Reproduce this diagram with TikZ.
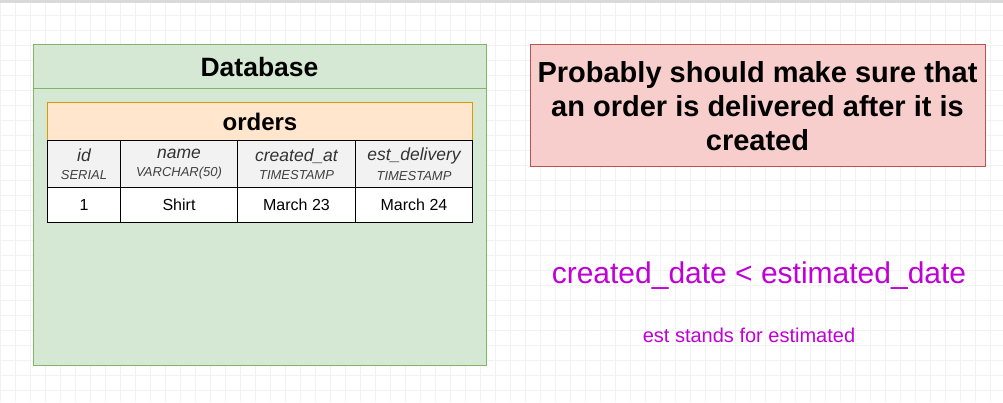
\documentclass[tikz,border=0pt]{standalone}
\usepackage{fontspec}
\setmainfont{Liberation Sans}
\definecolor{gfill}{HTML}{D5E8D4}
\definecolor{gline}{HTML}{82B366}
\definecolor{ofill}{HTML}{FFE6CC}
\definecolor{oline}{HTML}{D79B00}
\definecolor{rfill}{HTML}{F8CECC}
\definecolor{rline}{HTML}{B85450}
\definecolor{hfill}{HTML}{F2F2F2}
\definecolor{mag}{HTML}{C000D6}
\definecolor{gridc}{HTML}{F2F2F2}
\newcommand\mycolnm[1]{{\fontsize{17.5}{19}\selectfont\itshape\color{black!80} #1}}
\newcommand\mycoltp[1]{{\fontsize{13}{14}\selectfont\itshape\color{black!75} #1}}
\begin{document}
\begin{tikzpicture}[x=1pt,y=-1pt,
  cell/.style={draw=black,line width=1pt,minimum height=47pt,inner sep=0pt,anchor=north west,align=center,fill=hfill},
  dcell/.style={draw=black,line width=1pt,minimum height=35pt,inner sep=0pt,anchor=north west,font=\fontsize{16}{18}\selectfont,fill=white}]
\useasboundingbox (0,0) rectangle (1003,402);
\fill[white] (0,0) rectangle (1003,402);
\draw[gridc,step=15pt] (0,0) grid (1003,402);
\fill[black!15] (0,0) rectangle (1003,3);
% Database container
\node[draw=gline,fill=gfill,line width=1pt,minimum width=453pt,minimum height=321pt,anchor=north west,inner sep=0pt] (db) at (33,44) {};
\draw[gline,line width=1pt] (33,88) -- (486,88);
\node[font=\fontsize{26.5}{30}\selectfont\bfseries] (dbt) at (259.5,67) {Database};
% orders header
\node[draw=oline,fill=ofill,line width=1pt,minimum width=425pt,minimum height=38pt,anchor=north west,inner sep=0pt,font=\fontsize{24}{28}\selectfont\bfseries] (ord) at (47,102) {orders};
% columns
\node[cell,minimum width=73pt] (c1) at (47,140) {\mycolnm{id}\\[6pt]\mycoltp{SERIAL}};
\node[cell,minimum width=117pt] (c2) at (120,140) {\mycolnm{name}\\[6pt]\mycoltp{VARCHAR(50)}};
\node[cell,minimum width=118pt] (c3) at (237,140) {\mycolnm{created\_at}\\[6pt]\mycoltp{TIMESTAMP}};
\node[cell,minimum width=117pt] (c4) at (355,140) {\mycolnm{est\_delivery}\\[6pt]\mycoltp{TIMESTAMP}};
\node[dcell,minimum width=73pt] (d1) at (47,187) {1};
\node[dcell,minimum width=117pt] (d2) at (120,187) {Shirt};
\node[dcell,minimum width=118pt] (d3) at (237,187) {March 23};
\node[dcell,minimum width=117pt] (d4) at (355,187) {March 24};
% red note
\node[draw=rline,fill=rfill,line width=1pt,minimum width=455pt,minimum height=122pt,anchor=north west,inner sep=0pt] (note) at (530,44) {};
\node[align=center,font=\fontsize{29}{34}\selectfont\bfseries] (notet) at (757.5,106) {Probably should make sure that\\an order is delivered after it is\\created};
% magenta text
\node[text=mag,font=\fontsize{30}{34}\selectfont] (cmp) at (759,276) {created\_date < estimated\_date};
\node[text=mag,font=\fontsize{20}{23}\selectfont] (est) at (749,335) {est stands for estimated};
\end{tikzpicture}
\end{document}
